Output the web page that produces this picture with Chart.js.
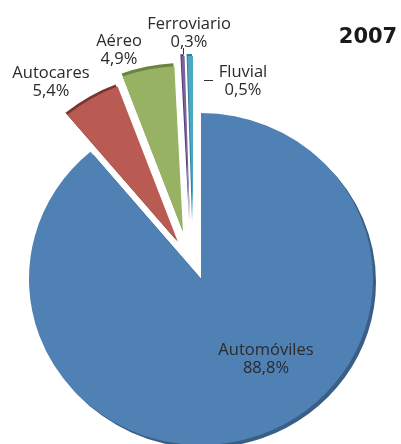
<!DOCTYPE html>
<html>
<head>
<meta charset="utf-8">
<script src="https://cdn.jsdelivr.net/npm/chart.js@4.4.0/dist/chart.umd.min.js"></script>
<style>
  html, body { margin: 0; background: #fff; }
  #wrap { width: 401px; height: 444px; position: relative; }
</style>
</head>
<body>
<div id="wrap"><canvas id="grafico"></canvas></div>
<script>
// ─── Datos ─────────────────────────────────────────
const categorias  = ['Automóviles', 'Autocares', 'Aéreo', 'Ferroviario', 'Fluvial'];
const porcentajes = [88.8, 5.4, 4.9, 0.3, 0.5];
const anio        = '2007';

// ─── Estilo ────────────────────────────────────────
const COLORES    = ['#5081b5', '#b95b52', '#97b262', '#7b62a0', '#4aa8c4'];
const BORDES     = ['#3a5e85', '#7d3530', '#6a853d', '#4f3b70', '#2f7f96'];
const SOMBRAS    = [[3, 3], [-2, -2], [-1, -3], [-1, -2], [-1, -2]];
// desplazamiento (px) de cada porción respecto al centro
const SEPARACION = [[0, 0], [-23, -37], [-18, -47], [-11, -57], [-8, -57]];
const ACHATADO   = 0.965;   // ligera perspectiva vertical
// posición (centro de la primera línea) de cada etiqueta
const ETIQUETAS  = [[266, 350], [51, 73], [119, 41], [189, 24], [243, 72]];

const fmtPct = v => v.toFixed(1).replace('.', ',') + '%';

// separa las porciones y dibuja el "canto" de cada una
const pastelExplotado = {
  id: 'pastelExplotado',
  beforeDatasetDraw(chart, args) {
    const { ctx, chartArea } = chart;
    const cx = (chartArea.left + chartArea.right) / 2;
    const cy = (chartArea.top + chartArea.bottom) / 2;
    ctx.save();
    ctx.translate(cx, cy);
    ctx.scale(1, ACHATADO);
    ctx.translate(-cx, -cy);
    args.meta.data.forEach((arc, i) => {
      arc.x = cx + SEPARACION[i][0];
      arc.y = cy + SEPARACION[i][1] / ACHATADO;
      ctx.save();
      ctx.shadowColor = BORDES[i];
      ctx.shadowOffsetX = SOMBRAS[i][0];
      ctx.shadowOffsetY = SOMBRAS[i][1];
      ctx.shadowBlur = 0;
      arc.draw(ctx);
      ctx.restore();
    });
    ctx.restore();
    return false;
  },
  afterDraw(chart) {
    const { ctx } = chart;
    ctx.save();
    ctx.fillStyle = '#2a2a2a';
    ctx.textAlign = 'center';
    ctx.textBaseline = 'middle';
    ctx.font = '16.5px "Open Sans"';
    categorias.forEach((c, i) => {
      const [x, y] = ETIQUETAS[i];
      ctx.fillText(c, x, y);
      ctx.fillText(fmtPct(porcentajes[i]), x, y + 18);
    });
    // guías
    ctx.strokeStyle = '#333';
    ctx.lineWidth = 1;
    ctx.beginPath();
    ctx.moveTo(183.5, 48); ctx.lineTo(183.5, 54);
    ctx.moveTo(204, 80.5); ctx.lineTo(213, 80.5);
    ctx.stroke();
    // año
    ctx.font = 'bold 21px "DejaVu Sans"';
    ctx.fillStyle = '#1a1a1a';
    ctx.fillText(anio, 368, 38);
    ctx.restore();
  }
};

new Chart(document.getElementById('grafico'), {
  type: 'pie',
  data: {
    labels: categorias,
    datasets: [{
      data: porcentajes,
      backgroundColor: COLORES,
      borderWidth: 0,
      clip: false,
    }],
  },
  options: {
    responsive: true,
    maintainAspectRatio: false,
    animation: false,
    events: [],
    radius: 172,
    layout: { padding: { top: 114, left: 1, right: 0, bottom: 0 } },
    plugins: {
      legend: { display: false },
      tooltip: { enabled: false },
    },
  },
  plugins: [pastelExplotado],
});
</script>
</body>
</html>
